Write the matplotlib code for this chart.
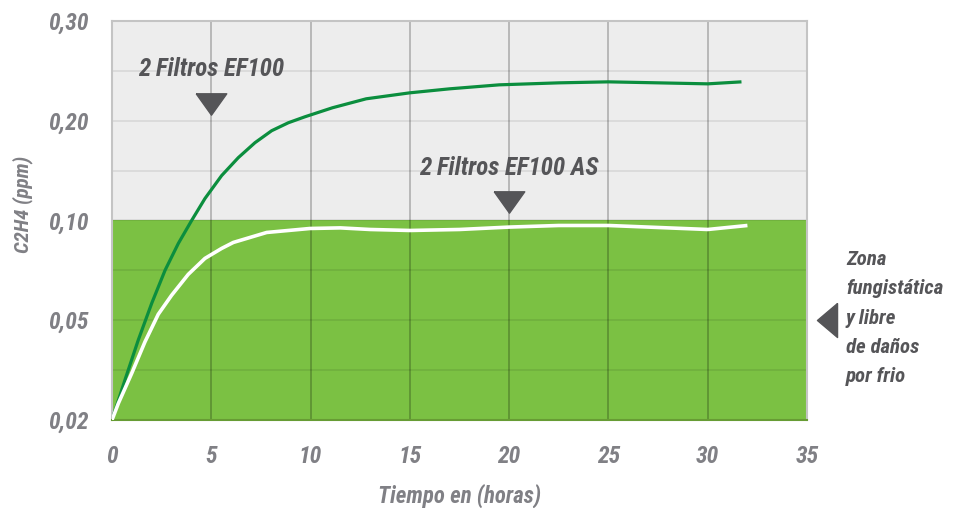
import matplotlib
matplotlib.use("Agg")
import matplotlib.pyplot as plt
import numpy as np

# datos (ppm de C2H4 frente a horas)
horas_ef100 = [0, 0.65, 1.32, 2.0, 2.67, 3.34, 4.01, 4.68, 5.52, 6.36, 7.2, 8.04, 8.88, 9.72, 11.1, 12.8, 15.0, 17.0, 19.5, 22.5, 25, 27.5, 30, 31.7]
ppm_ef100 = [0.02, 0.032, 0.044, 0.0585, 0.075, 0.0885, 0.100, 0.122, 0.145, 0.163, 0.178, 0.19, 0.198, 0.204, 0.213, 0.222, 0.228, 0.232, 0.236, 0.238, 0.239, 0.238, 0.237, 0.239]

horas_as = [0, 0.32, 0.99, 1.66, 2.33, 3.0, 3.84, 4.68, 5.52, 6.11, 7.79, 9.97, 11.5, 13, 15, 17.5, 20, 22.5, 25, 27.5, 30, 32]
ppm_as = [0.02, 0.025, 0.034, 0.0435, 0.053, 0.0625, 0.073, 0.081, 0.086, 0.089, 0.094, 0.096, 0.0963, 0.0955, 0.095, 0.0955, 0.0967, 0.0975, 0.0975, 0.0965, 0.0955, 0.0975]

niveles = [0.02, 0.05, 0.10, 0.20, 0.30]
etiquetas_y = ['0,02', '0,05', '0,10', '0,20', '0,30']
niveles_menores = [0.035, 0.075, 0.15, 0.25]
xticks = [0, 5, 10, 15, 20, 25, 30, 35]
limite_zona = 0.10

fuente = ['Roboto Condensed', 'Liberation Sans Narrow', 'DejaVu Sans']
gris_txt = '#808085'
gris_osc = '#555558'

pos = np.arange(len(niveles))
def fwd(y):
    return np.interp(y, niveles, pos)
def inv(p):
    return np.interp(p, pos, niveles)

fig = plt.figure(figsize=(9.59, 5.08), dpi=100)
ax = fig.add_axes([112/959, 1-420/508, 695/959, 399/508])
ax.set_yscale('function', functions=(fwd, inv))
ax.set_xlim(0, 35)
ax.set_ylim(0.02, 0.30)
ax.set_facecolor('#ededed')

# zona verde
ax.axhspan(0.02, limite_zona, color='#7bc143', zorder=0.5, lw=0)

# rejilla
for y in niveles[1:-1] + niveles_menores:
    ax.axhline(y, color='black', alpha=0.09, lw=1.2, zorder=1)
for x in xticks[1:-1]:
    ax.axvline(x, color='black', alpha=0.22, lw=1.4, zorder=1)

ax.plot(horas_ef100, ppm_ef100, color='#0b8e3e', lw=2.3, zorder=3,
        solid_capstyle='butt', solid_joinstyle='round')
ax.plot(horas_as, ppm_as, color='white', lw=2.6, zorder=3,
        solid_capstyle='butt', solid_joinstyle='round')

for s in ax.spines.values():
    s.set_color('#c4c4c4')
    s.set_linewidth(1.5)
ax.spines['bottom'].set_color('#679c34')

ax.set_yticks(niveles)
ax.set_yticklabels(etiquetas_y)
ax.set_yticks([], minor=True)
ax.set_xticks(xticks)
ax.tick_params(length=0, colors=gris_txt)
ax.tick_params(axis='y', pad=17)
ax.tick_params(axis='x', pad=18)
for lab in ax.get_xticklabels() + ax.get_yticklabels():
    lab.set_family(fuente)
    lab.set_fontstyle('italic')
    lab.set_fontweight('bold')
    lab.set_fontsize(17)

ax.set_xlabel('Tiempo en (horas)', family=fuente, style='italic', weight='bold',
              fontsize=16.5, color=gris_txt, labelpad=11)
fig.text(23/959, 1-204/508, 'C2H4 (ppm)', rotation=90, ha='center', va='center', family=fuente,
         style='italic', weight='bold', fontsize=15, color=gris_txt)

# marcas de los filtros
tri_abajo = [(-1, 0.7), (1, 0.7), (0, -0.7), (-1, 0.7)]
ax.plot([5], [0.217], marker=tri_abajo, markersize=22, color=gris_osc, zorder=4, ls='none')
ax.text(5, 0.252, '2 Filtros EF100', ha='center', va='center', family=fuente,
        style='italic', weight='bold', fontsize=18, color=gris_osc)
ax.plot([20], [0.119], marker=tri_abajo, markersize=22, color=gris_osc, zorder=4, ls='none')
ax.text(20, 0.153, '2 Filtros EF100 AS', ha='center', va='center', family=fuente,
        style='italic', weight='bold', fontsize=18, color=gris_osc)

tri_izq = [(0.59, 1), (0.59, -1), (-0.59, 0), (0.59, 1)]
ax.plot([36.0], [0.05], marker=tri_izq, markersize=24.5, color=gris_osc, clip_on=False, ls='none')
fig.text(846/959, 1-318/508, 'Zona\nfungistática\ny libre\nde daños\npor frio', ha='left', va='center',
         family=fuente, style='italic', weight='bold', fontsize=15, color=gris_osc, linespacing=1.68)

fig.savefig('out.png', dpi=100)
